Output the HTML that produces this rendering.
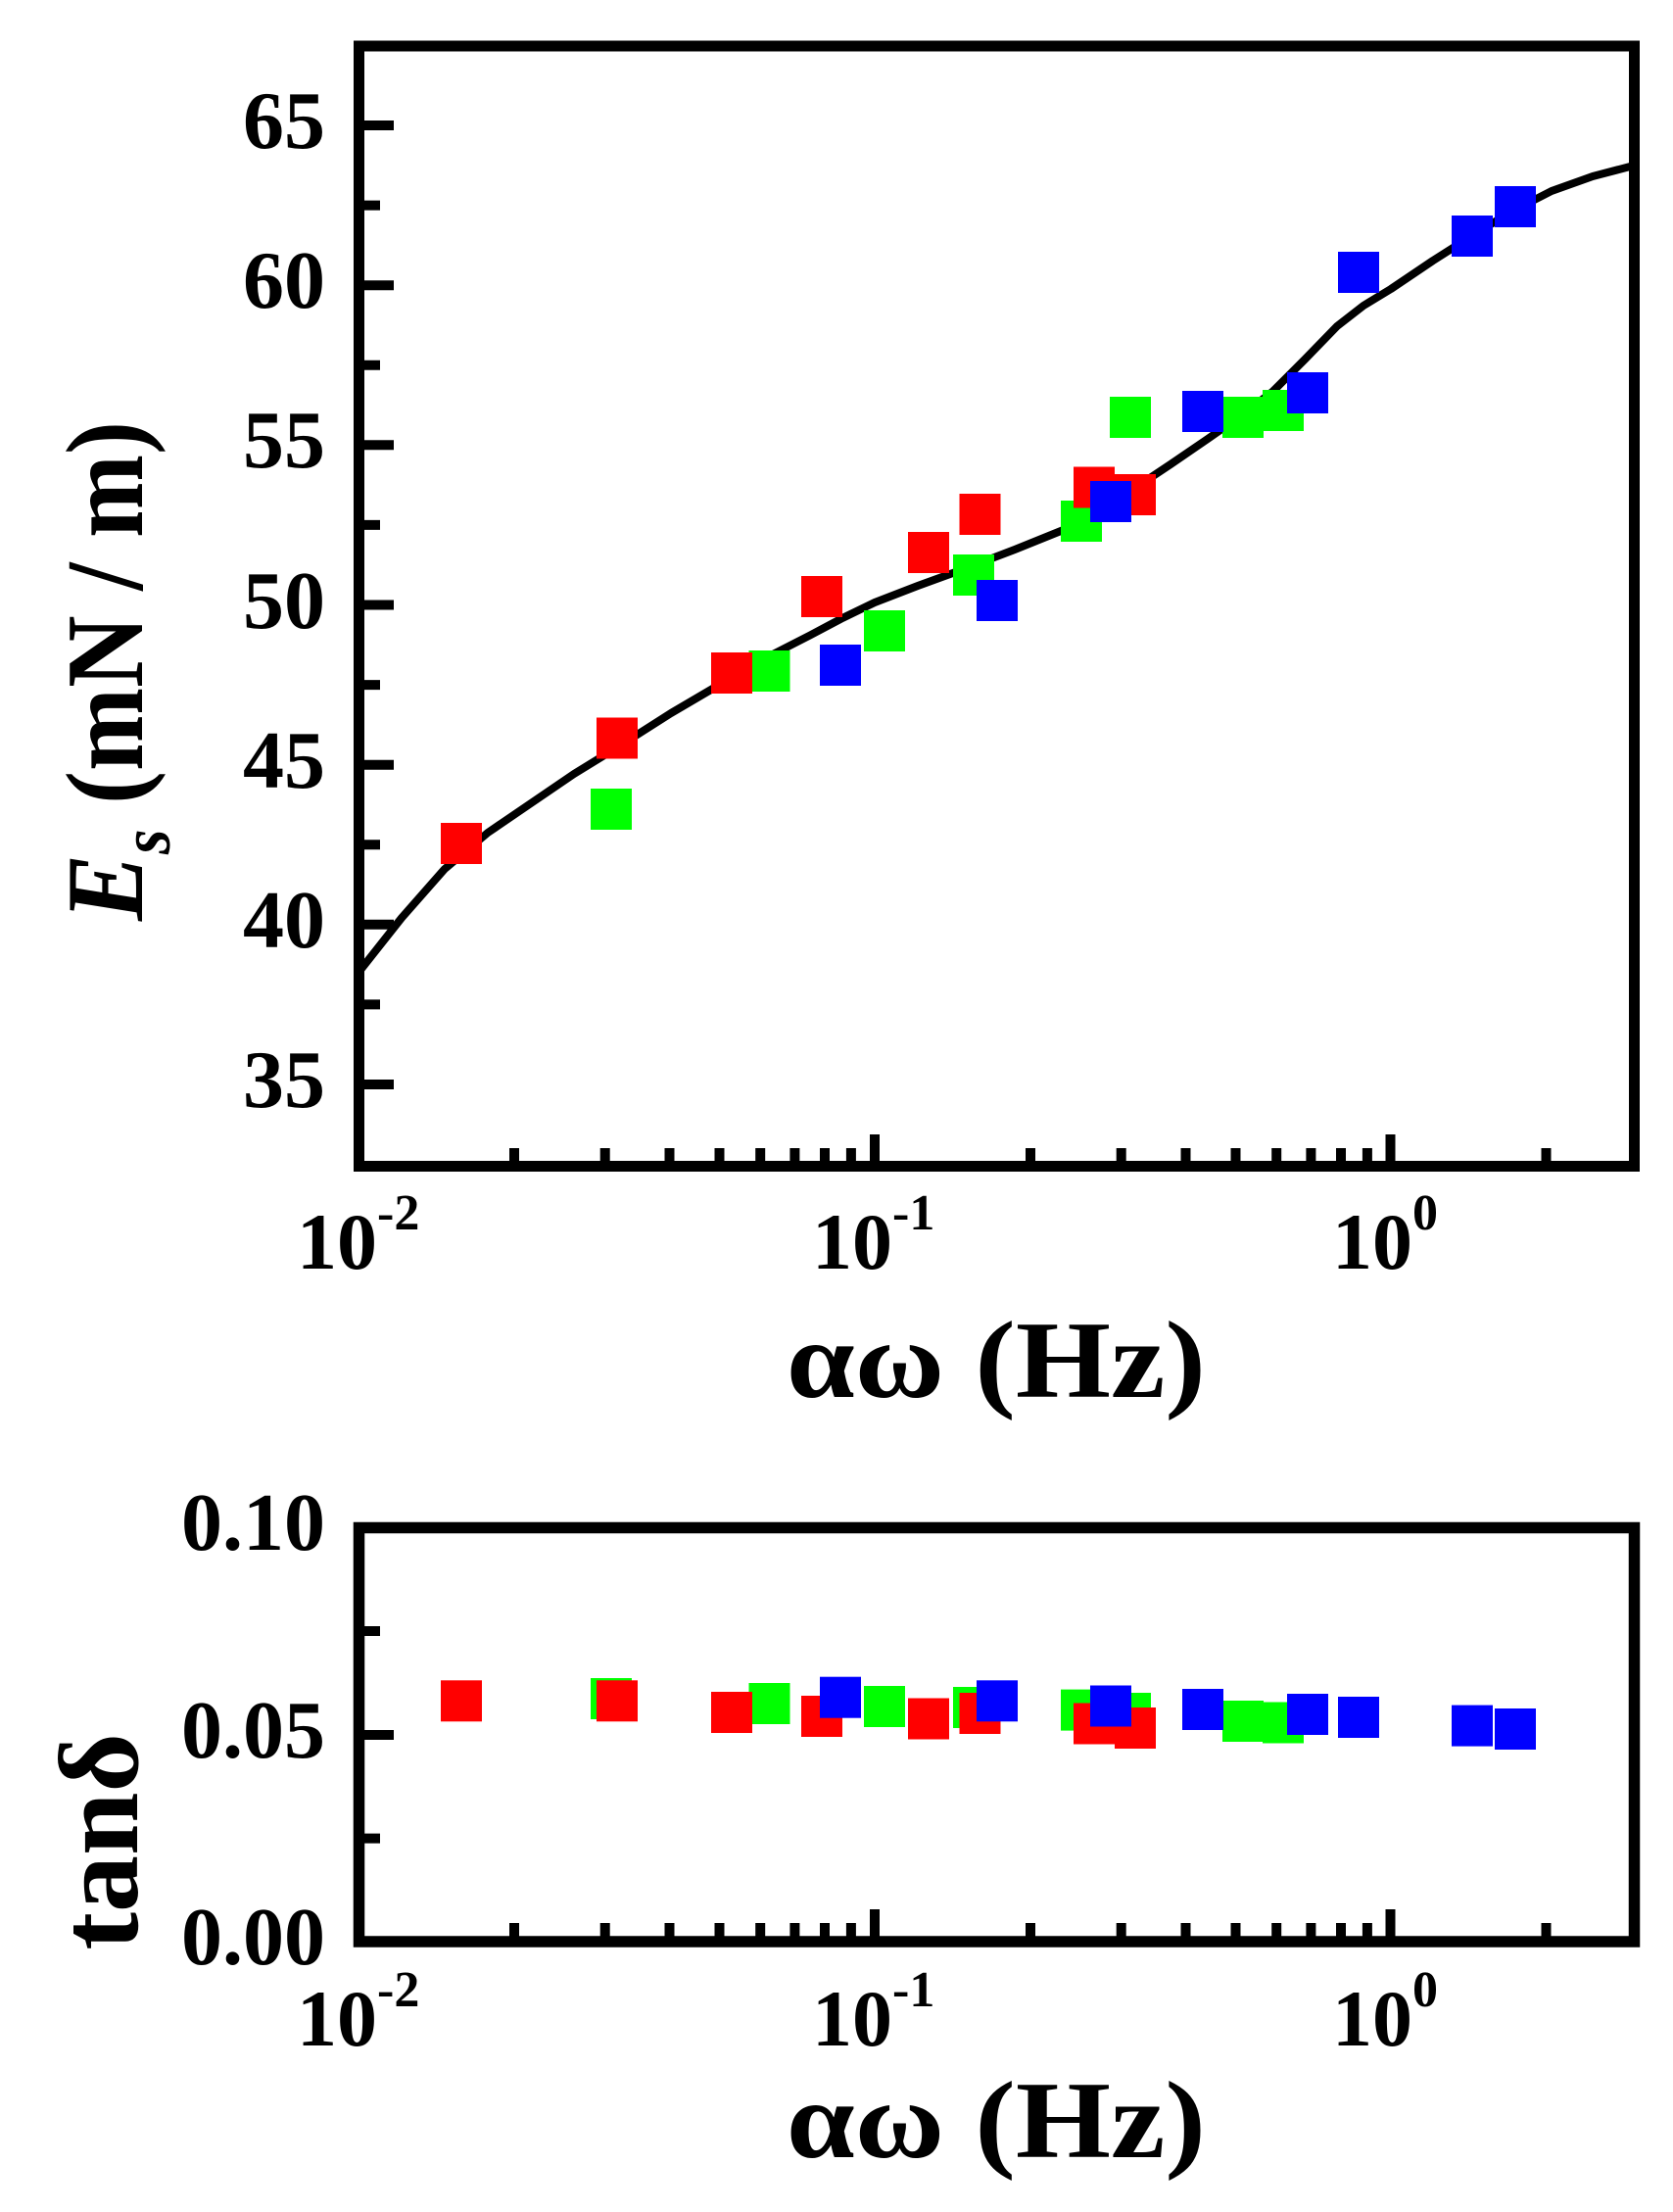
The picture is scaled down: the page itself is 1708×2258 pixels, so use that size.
<!DOCTYPE html>
<html><head><meta charset="utf-8"><style>
html,body{margin:0;padding:0;background:#fff;}
svg{display:block;}
text{font-family:"Liberation Serif",serif;font-weight:bold;fill:#000;}
</style></head><body>
<svg width="1708" height="2258" viewBox="0 0 1708 2258" xmlns="http://www.w3.org/2000/svg">
<!-- TOP PLOT -->
<g stroke="#000" stroke-width="11" fill="none">
<rect x="366.5" y="47" width="1302" height="1143.5"/>
</g>
<g stroke="#000" stroke-width="10">
<line x1="366" y1="128" x2="402" y2="128"/>
<line x1="366" y1="291.2" x2="402" y2="291.2"/>
<line x1="366" y1="454.3" x2="402" y2="454.3"/>
<line x1="366" y1="617.5" x2="402" y2="617.5"/>
<line x1="366" y1="780.7" x2="402" y2="780.7"/>
<line x1="366" y1="943.8" x2="402" y2="943.8"/>
<line x1="366" y1="1107" x2="402" y2="1107"/>
<line x1="366" y1="209.6" x2="388" y2="209.6"/>
<line x1="366" y1="372.8" x2="388" y2="372.8"/>
<line x1="366" y1="535.9" x2="388" y2="535.9"/>
<line x1="366" y1="699.1" x2="388" y2="699.1"/>
<line x1="366" y1="862.3" x2="388" y2="862.3"/>
<line x1="366" y1="1025.4" x2="388" y2="1025.4"/>
</g>
<g stroke="#000" stroke-width="10">
<line x1="893" y1="1191" x2="893" y2="1158"/>
<line x1="1419.5" y1="1191" x2="1419.5" y2="1158"/>
<line x1="525" y1="1191" x2="525" y2="1172"/>
<line x1="617.7" y1="1191" x2="617.7" y2="1172"/>
<line x1="683.5" y1="1191" x2="683.5" y2="1172"/>
<line x1="734.5" y1="1191" x2="734.5" y2="1172"/>
<line x1="776.2" y1="1191" x2="776.2" y2="1172"/>
<line x1="811.4" y1="1191" x2="811.4" y2="1172"/>
<line x1="842" y1="1191" x2="842" y2="1172"/>
<line x1="868.9" y1="1191" x2="868.9" y2="1172"/>
<line x1="1052" y1="1191" x2="1052" y2="1172"/>
<line x1="1144.7" y1="1191" x2="1144.7" y2="1172"/>
<line x1="1210.5" y1="1191" x2="1210.5" y2="1172"/>
<line x1="1261.5" y1="1191" x2="1261.5" y2="1172"/>
<line x1="1303.2" y1="1191" x2="1303.2" y2="1172"/>
<line x1="1338.4" y1="1191" x2="1338.4" y2="1172"/>
<line x1="1369" y1="1191" x2="1369" y2="1172"/>
<line x1="1395.9" y1="1191" x2="1395.9" y2="1172"/>
<line x1="1578.5" y1="1191" x2="1578.5" y2="1172"/>
</g>
<g font-size="84" text-anchor="end">
<text x="332" y="151">65</text>
<text x="332" y="314">60</text>
<text x="332" y="477">55</text>
<text x="332" y="641">50</text>
<text x="332" y="804">45</text>
<text x="332" y="967">40</text>
<text x="332" y="1130">35</text>
</g>
<g font-size="82">
<text x="303" y="1295">10<tspan font-size="52" dy="-40">-2</tspan></text>
<text x="829" y="1295">10<tspan font-size="52" dy="-40">-1</tspan></text>
<text x="1360" y="1295">10<tspan font-size="52" dy="-40">0</tspan></text>
</g>
<text x="803" y="1426" font-size="112" textLength="428" lengthAdjust="spacingAndGlyphs">αω (Hz)</text>
<text transform="translate(145,940) rotate(-90)" font-size="112" textLength="510" lengthAdjust="spacingAndGlyphs"><tspan font-style="italic">E</tspan><tspan font-style="italic" font-size="72" dy="28">s</tspan><tspan dy="-28"> (mN / m)</tspan></text>
<polyline fill="none" stroke="#000" stroke-width="8" stroke-linejoin="round" stroke-linecap="round" points="366.5,992 410,937 454,887 498,850 542,820 586,790 630,763 685,728 739.5,696 783,671 827,648.5 860,631 893,615 937,598 981,582 1036,561 1090.5,539 1125,520 1156,500 1195,474 1233,448 1266,425 1299,400 1332,367 1365,333 1392,312 1420,295 1463,266 1507,238 1545,215 1584,195 1626,180 1668,169"/>
<g fill="#00ff00">
<rect x="603" y="805" width="42" height="42"/><rect x="764.5" y="664" width="42" height="42"/><rect x="882" y="623" width="42" height="42"/><rect x="973" y="566" width="42" height="42"/><rect x="1083" y="511" width="42" height="42"/><rect x="1133" y="405" width="42" height="42"/><rect x="1248" y="405" width="42" height="42"/><rect x="1289" y="398" width="42" height="42"/>
</g>
<g fill="#ff0000">
<rect x="450" y="840" width="42" height="42"/><rect x="609" y="732.5" width="42" height="42"/><rect x="726" y="666" width="42" height="42"/><rect x="818" y="588" width="42" height="42"/><rect x="927" y="543" width="42" height="42"/><rect x="979.5" y="504" width="42" height="42"/><rect x="1096" y="476.5" width="42" height="42"/><rect x="1138" y="484" width="42" height="42"/>
</g>
<g fill="#0000ff">
<rect x="837" y="658" width="42" height="42"/><rect x="997" y="592" width="42" height="42"/><rect x="1113" y="491" width="42" height="42"/><rect x="1207" y="399" width="42" height="42"/><rect x="1314" y="380" width="42" height="42"/><rect x="1366" y="257" width="42" height="42"/><rect x="1482" y="220" width="42" height="42"/><rect x="1526" y="190" width="42" height="42"/>
</g>

<!-- BOTTOM PLOT -->
<g stroke="#000" stroke-width="11.5" fill="none">
<rect x="366.5" y="1559.5" width="1302" height="422.5"/>
</g>
<g stroke="#000" stroke-width="10">
<line x1="366" y1="1771" x2="402" y2="1771"/>
<line x1="366" y1="1665" x2="388" y2="1665"/>
<line x1="366" y1="1876.6" x2="388" y2="1876.6"/>
<line x1="893" y1="1982" x2="893" y2="1949"/>
<line x1="1419.5" y1="1982" x2="1419.5" y2="1949"/>
<line x1="525" y1="1982" x2="525" y2="1963"/>
<line x1="617.7" y1="1982" x2="617.7" y2="1963"/>
<line x1="683.5" y1="1982" x2="683.5" y2="1963"/>
<line x1="734.5" y1="1982" x2="734.5" y2="1963"/>
<line x1="776.2" y1="1982" x2="776.2" y2="1963"/>
<line x1="811.4" y1="1982" x2="811.4" y2="1963"/>
<line x1="842" y1="1982" x2="842" y2="1963"/>
<line x1="868.9" y1="1982" x2="868.9" y2="1963"/>
<line x1="1052" y1="1982" x2="1052" y2="1963"/>
<line x1="1144.7" y1="1982" x2="1144.7" y2="1963"/>
<line x1="1210.5" y1="1982" x2="1210.5" y2="1963"/>
<line x1="1261.5" y1="1982" x2="1261.5" y2="1963"/>
<line x1="1303.2" y1="1982" x2="1303.2" y2="1963"/>
<line x1="1338.4" y1="1982" x2="1338.4" y2="1963"/>
<line x1="1369" y1="1982" x2="1369" y2="1963"/>
<line x1="1395.9" y1="1982" x2="1395.9" y2="1963"/>
<line x1="1578.5" y1="1982" x2="1578.5" y2="1963"/>
</g>
<g font-size="84" text-anchor="end">
<text x="332" y="1582">0.10</text>
<text x="332" y="1794">0.05</text>
<text x="332" y="2005">0.00</text>
</g>
<g font-size="82">
<text x="303" y="2088">10<tspan font-size="52" dy="-40">-2</tspan></text>
<text x="829" y="2088">10<tspan font-size="52" dy="-40">-1</tspan></text>
<text x="1360" y="2088">10<tspan font-size="52" dy="-40">0</tspan></text>
</g>
<text x="803" y="2202" font-size="112" textLength="428" lengthAdjust="spacingAndGlyphs">αω (Hz)</text>
<text transform="translate(140,1880) rotate(-90)" font-size="116" text-anchor="middle">tanδ</text>
<g fill="#00ff00">
<rect x="603" y="1713" width="42" height="42"/><rect x="764.5" y="1718" width="42" height="42"/><rect x="882" y="1721" width="42" height="42"/><rect x="973" y="1722" width="42" height="42"/><rect x="1083" y="1724.6" width="42" height="42"/><rect x="1133" y="1728" width="42" height="42"/><rect x="1248" y="1736" width="42" height="42"/><rect x="1289" y="1737.5" width="42" height="42"/>
</g>
<g fill="#ff0000">
<rect x="450" y="1715.3" width="42" height="42"/><rect x="609" y="1715.3" width="42" height="42"/><rect x="726" y="1727" width="42" height="42"/><rect x="818" y="1731" width="42" height="42"/><rect x="927" y="1733.5" width="42" height="42"/><rect x="979.5" y="1728" width="42" height="42"/><rect x="1096" y="1738.5" width="42" height="42"/><rect x="1138" y="1743" width="42" height="42"/>
</g>
<g fill="#0000ff">
<rect x="837" y="1711.7" width="42" height="42"/><rect x="997" y="1715.3" width="42" height="42"/><rect x="1113" y="1720.5" width="42" height="42"/><rect x="1207" y="1724" width="42" height="42"/><rect x="1314" y="1729" width="42" height="42"/><rect x="1366" y="1732" width="42" height="42"/><rect x="1482" y="1740.6" width="42" height="42"/><rect x="1526" y="1744" width="42" height="42"/>
</g>
</svg>
</body></html>
